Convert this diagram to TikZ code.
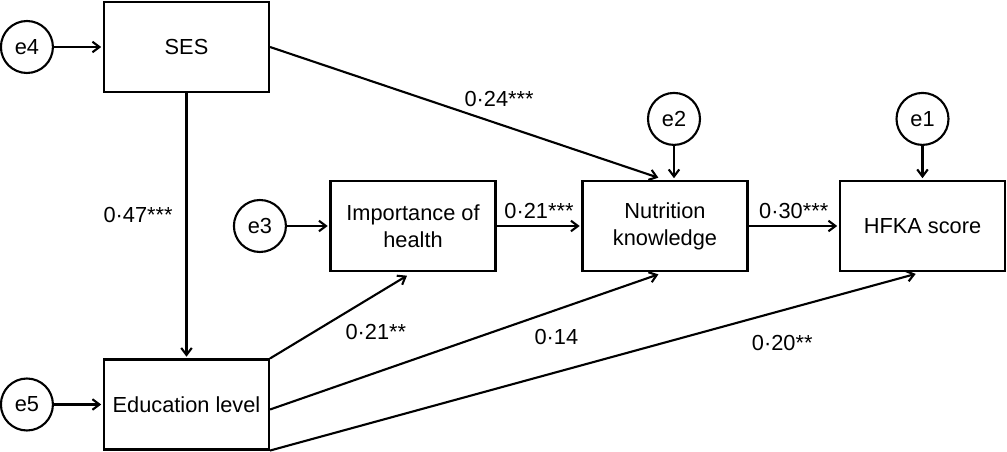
\documentclass[tikz,border=0pt]{standalone}
\usepackage{fontspec}
\setmainfont{Liberation Sans}
\usetikzlibrary{
        arrows.meta,
        positioning
    }
\tikzset{>={Straight Barb[length=4pt,width=6pt]},shorten >=1pt,node distance=1cm}
\tikzset{
        var/.style={draw,rectangle,minimum width=3.3cm,minimum height=1.8cm,align=center,inner sep=2pt},
        err/.style={draw,circle,minimum size=1.04cm,inner sep=0pt},
        every edge/.append style={line width=1.2pt}
    }

\begin{document}
\begin{tikzpicture}[x=0.02cm,y=-0.02cm,line width=1.2pt,font=\fontsize{12.4}{15.3}\selectfont]
\useasboundingbox (0,0) rectangle (1007,452);
			\node[var] (ses)  at (186.5,47)    {SES};
			\node[var] (edu)  at (186.5,404.5) {Education level};
			\node[var] (imp)  at (413,226)     {Importance of\\health};
			\node[var] (nut)  at (665,226)     {Nutrition\\knowledge};
			\node[var] (hfka) at (922.5,226)   {HFKA score};
			\node[err] (e4) [left=0.98cm of ses]  {e4};
			\node[err] (e5) [left=0.98cm of edu]  {e5};
			\node[err] (e3) [left=0.85cm of imp]  {e3};
			\node[err] (e2) [above=0.68cm of nut,xshift=0.18cm] {e2};
			\node[err] (e1) [above=0.68cm of hfka] {e1};
		\path[->]
				(e4)  edge  (ses)
				(e5)  edge  (edu)
				(e3)  edge  (imp)
				(e2)  edge  (e2 |- nut.north)
				(e1)  edge  (e1 |- hfka.north)
				(ses)  edge  node[left=4pt,pos=0.46] {0·47***}  (edu)
				(ses.east)  edge[shorten >=4pt]  node[above=6pt,pos=0.58] {0·24***}  (nut.north)
				(imp)  edge  node[above] {0·21***}  (nut)
				(nut)  edge  node[above] {0·30***}  (hfka)
				(edu.north east)  edge[shorten >=4pt]  node[pos=0.48,anchor=north west] {0·21**}  (imp.south)
				([yshift=-0.1cm]edu.east)  edge[shorten >=4pt]  node[pos=0.725,below=7pt] {0·14}  (nut.south)
				(edu.south east)  edge[shorten >=4pt]  node[pos=0.785,below=10pt] {0·20**}  (hfka.south)
				;
\end{tikzpicture}
\end{document}
